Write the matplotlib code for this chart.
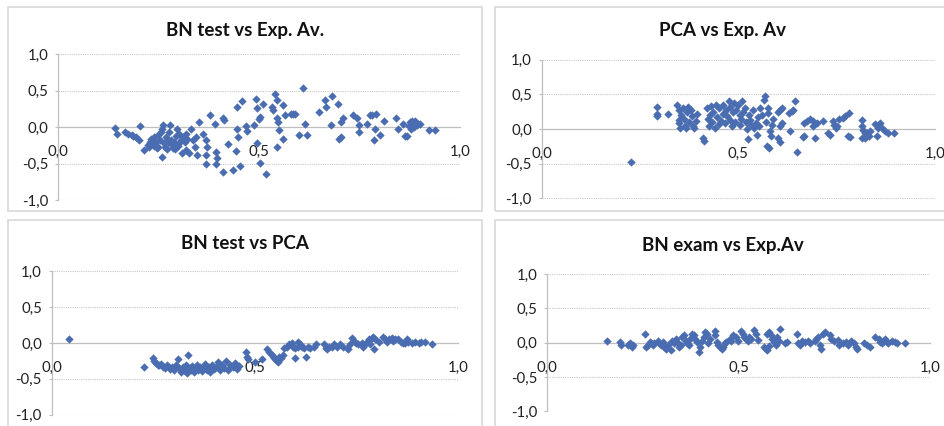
import matplotlib
matplotlib.use('Agg')
import matplotlib.pyplot as plt
from matplotlib.patches import Rectangle

plt.rcParams['font.family'] = ['Lato', 'DejaVu Sans']

titles = ["BN test vs Exp. Av.", "PCA vs Exp. Av", "BN test vs PCA", "BN exam vs Exp.Av"]
x_ticks = [0.0, 0.5, 1.0]
y_ticks = [-1.0, -0.5, 0.0, 0.5, 1.0]

bn_test_vs_exp_av = [
    (0.14, -0.01), (0.147, -0.09), (0.166, -0.07), (0.174, -0.09), (0.183, -0.11), (0.187, -0.12),
    (0.193, -0.14), (0.2, -0.17), (0.203, 0.01), (0.214, -0.32), (0.224, -0.25), (0.228, -0.2),
    (0.227, -0.27), (0.232, -0.16), (0.235, -0.22), (0.237, -0.13), (0.238, -0.26), (0.243, -0.2),
    (0.245, -0.29), (0.247, -0.11), (0.249, -0.27), (0.253, -0.18), (0.255, -0.06), (0.257, -0.02),
    (0.261, 0.03), (0.259, -0.41), (0.262, -0.22), (0.266, -0.27), (0.268, -0.13), (0.27, -0.3),
    (0.272, -0.2), (0.276, -0.06), (0.278, 0.03), (0.28, -0.18), (0.282, -0.25), (0.285, -0.28),
    (0.288, -0.2), (0.29, -0.3), (0.293, -0.12), (0.296, -0.02), (0.299, -0.26), (0.3, -0.22),
    (0.301, -0.09), (0.305, -0.18), (0.307, -0.35), (0.311, -0.13), (0.316, -0.2), (0.317, -0.1),
    (0.318, -0.32), (0.321, -0.16), (0.326, -0.35), (0.33, -0.02), (0.336, -0.18), (0.34, -0.27),
    (0.343, -0.13), (0.346, -0.38), (0.351, 0.07), (0.361, -0.09), (0.368, -0.18), (0.369, -0.27),
    (0.368, -0.38), (0.368, -0.5), (0.378, 0.16), (0.39, 0.04), (0.393, -0.34), (0.394, -0.43),
    (0.392, -0.51), (0.411, 0.13), (0.413, 0.1), (0.411, -0.61), (0.423, -0.23), (0.434, -0.59),
    (0.444, 0.28), (0.446, -0.02), (0.442, -0.33), (0.448, -0.13), (0.457, 0.36), (0.452, -0.53),
    (0.467, 0.02), (0.469, -0.05), (0.486, 0.03), (0.492, 0.38), (0.495, 0.26), (0.494, -0.22),
    (0.502, 0.14), (0.5, 0.11), (0.502, -0.49), (0.51, 0.32), (0.516, -0.64), (0.531, 0.28),
    (0.535, 0.23), (0.54, 0.45), (0.544, 0.37), (0.544, 0.13), (0.548, 0.07), (0.55, -0.04),
    (0.544, -0.27), (0.56, 0.3), (0.56, -0.16), (0.564, 0.17), (0.58, 0.18), (0.585, 0.18),
    (0.59, 0.18), (0.598, -0.11), (0.61, 0.54), (0.614, 0.04), (0.618, -0.11), (0.65, 0.21),
    (0.664, 0.37), (0.666, 0.27), (0.682, 0.43), (0.68, 0.03), (0.697, 0.32), (0.7, -0.16),
    (0.704, -0.14), (0.703, 0.07), (0.708, 0.13), (0.734, 0.17), (0.744, 0.12), (0.749, 0.03),
    (0.749, -0.06), (0.768, 0.05), (0.775, 0.17), (0.782, 0.16), (0.79, 0.18), (0.788, -0.02),
    (0.786, -0.18), (0.8, -0.11), (0.811, 0.08), (0.84, 0.13), (0.846, -0.02), (0.857, 0.05),
    (0.863, -0.12), (0.869, -0.12), (0.872, 0.02), (0.876, 0.07), (0.88, 0.09), (0.884, 0.04),
    (0.888, 0.08), (0.892, 0.03), (0.896, 0.05), (0.9, 0.04), (0.878, -0.02), (0.886, 0.0),
    (0.924, -0.04), (0.938, -0.04),
]

pca_vs_exp_av = [
    (0.227, -0.47), (0.293, 0.31), (0.293, 0.21), (0.292, 0.18), (0.322, 0.22),
    (0.345, 0.35), (0.348, 0.27), (0.35, 0.13), (0.35, 0.09), (0.352, 0.02), (0.355, 0.2),
    (0.36, 0.3), (0.362, 0.15), (0.365, 0.05), (0.368, 0.01), (0.37, 0.25), (0.372, 0.32),
    (0.375, 0.1), (0.38, 0.28), (0.383, 0.18), (0.385, 0.05), (0.388, 0.02), (0.392, 0.12),
    (0.395, 0.22), (0.41, -0.13), (0.413, -0.17), (0.42, 0.3), (0.422, 0.15), (0.425, 0.05),
    (0.428, 0.2), (0.43, 0.33), (0.433, 0.1), (0.436, 0.25), (0.44, 0.02), (0.443, 0.35),
    (0.446, 0.17), (0.45, 0.07), (0.452, 0.3), (0.455, 0.12), (0.46, 0.22), (0.462, 0.35),
    (0.465, 0.08), (0.468, 0.27), (0.47, 0.18), (0.475, 0.41), (0.478, 0.32), (0.48, 0.13),
    (0.483, 0.04), (0.486, 0.24), (0.49, 0.37), (0.492, 0.1), (0.495, 0.28), (0.5, 0.34),
    (0.503, 0.2), (0.505, 0.06), (0.508, 0.15), (0.51, 0.41), (0.513, 0.25), (0.516, 0.3),
    (0.52, 0.1), (0.522, 0.0), (0.525, -0.15), (0.528, 0.2), (0.53, 0.13), (0.533, 0.06),
    (0.537, 0.28), (0.54, 0.02), (0.545, 0.09), (0.548, -0.08), (0.55, 0.17), (0.553, 0.05),
    (0.556, 0.3), (0.56, 0.2), (0.565, 0.42), (0.568, 0.47), (0.57, 0.1), (0.572, -0.25),
    (0.575, 0.3), (0.576, 0.23), (0.578, -0.28), (0.58, -0.03), (0.582, -0.1), (0.585, 0.06),
    (0.588, 0.14), (0.6, 0.25), (0.605, 0.28), (0.61, 0.3), (0.6, -0.13), (0.605, -0.18),
    (0.607, 0.04), (0.61, 0.09), (0.63, 0.23), (0.636, 0.26), (0.64, 0.28), (0.632, -0.03),
    (0.645, 0.4), (0.648, -0.33), (0.665, -0.11), (0.666, 0.09), (0.674, 0.11), (0.682, 0.14),
    (0.69, 0.11), (0.699, 0.09), (0.69, 0.04), (0.666, -0.1), (0.695, -0.13), (0.715, 0.11),
    (0.728, -0.06), (0.733, -0.08), (0.74, 0.11), (0.744, 0.06), (0.748, 0.01), (0.752, 0.04),
    (0.757, 0.14), (0.765, 0.16), (0.772, 0.18), (0.782, 0.23), (0.78, -0.1), (0.785, -0.12),
    (0.815, 0.13), (0.814, 0.04), (0.818, -0.01), (0.822, -0.06), (0.827, -0.06), (0.814, -0.13),
    (0.822, -0.13), (0.831, -0.1), (0.835, -0.03), (0.848, 0.07), (0.852, -0.1), (0.855, 0.02),
    (0.86, 0.09), (0.864, 0.01), (0.872, -0.03), (0.881, -0.06), (0.897, -0.06),
]

bn_test_vs_pca = [
    (0.042, 0.05), (0.226, -0.33), (0.25, -0.21), (0.253, -0.25), (0.257, -0.28), (0.261, -0.3),
    (0.265, -0.31), (0.27, -0.29), (0.275, -0.33), (0.28, -0.35), (0.285, -0.3), (0.29, -0.36),
    (0.295, -0.33), (0.3, -0.38), (0.305, -0.31), (0.31, -0.23), (0.313, -0.35), (0.318, -0.4),
    (0.322, -0.33), (0.326, -0.37), (0.33, -0.3), (0.333, -0.42), (0.336, -0.17), (0.34, -0.35),
    (0.343, -0.38), (0.346, -0.32), (0.35, -0.4), (0.353, -0.36), (0.357, -0.3), (0.36, -0.37),
    (0.365, -0.33), (0.37, -0.39), (0.374, -0.35), (0.378, -0.29), (0.382, -0.38), (0.386, -0.34),
    (0.39, -0.4), (0.395, -0.3), (0.4, -0.36), (0.405, -0.33), (0.41, -0.27), (0.415, -0.38),
    (0.42, -0.31), (0.425, -0.35), (0.43, -0.25), (0.435, -0.37), (0.44, -0.3), (0.445, -0.34),
    (0.45, -0.28), (0.455, -0.36), (0.46, -0.32), (0.478, -0.13), (0.48, -0.19), (0.482, -0.23),
    (0.5, -0.26), (0.518, -0.23), (0.53, -0.09), (0.535, -0.12), (0.54, -0.15), (0.545, -0.18),
    (0.548, -0.21), (0.552, -0.24), (0.556, -0.27), (0.56, -0.19), (0.565, -0.21), (0.57, -0.17),
    (0.572, -0.07), (0.58, -0.05), (0.585, -0.02), (0.592, 0.0), (0.595, -0.05), (0.6, -0.07),
    (0.605, -0.05), (0.606, 0.02), (0.6, -0.21), (0.625, -0.19), (0.612, -0.02), (0.616, -0.05),
    (0.62, -0.07), (0.63, -0.05), (0.635, -0.07), (0.645, -0.05), (0.65, -0.02), (0.67, -0.02),
    (0.674, -0.07), (0.678, -0.09), (0.682, -0.05), (0.69, -0.05), (0.695, -0.02), (0.702, -0.05),
    (0.71, -0.02), (0.718, -0.05), (0.727, -0.07), (0.73, -0.09), (0.735, -0.02), (0.74, 0.07),
    (0.747, 0.02), (0.75, 0.0), (0.755, -0.02), (0.763, 0.0), (0.767, -0.05), (0.772, -0.02),
    (0.775, 0.02), (0.78, 0.05), (0.784, -0.02), (0.788, 0.07), (0.792, 0.09), (0.794, -0.09),
    (0.796, 0.05), (0.805, 0.02), (0.815, 0.08), (0.82, 0.05), (0.825, 0.02), (0.83, 0.05),
    (0.837, 0.07), (0.84, 0.03), (0.845, 0.05), (0.853, 0.06), (0.86, 0.02), (0.865, 0.0),
    (0.87, 0.0), (0.874, 0.06), (0.878, 0.02), (0.886, 0.0), (0.894, 0.02), (0.903, 0.0),
    (0.91, 0.02), (0.918, 0.01), (0.935, -0.02),
]

bn_exam_vs_exp_av = [
    (0.156, 0.03), (0.191, 0.01), (0.193, -0.03), (0.212, -0.04), (0.216, -0.01), (0.221, -0.06),
    (0.225, -0.04), (0.255, 0.13), (0.259, -0.06), (0.263, -0.04), (0.268, 0.01), (0.272, -0.01),
    (0.276, -0.04), (0.28, 0.0), (0.289, 0.03), (0.293, -0.01), (0.297, -0.04), (0.302, 0.01),
    (0.306, -0.06), (0.31, -0.09), (0.315, -0.04), (0.323, -0.11), (0.327, 0.03), (0.332, -0.01),
    (0.336, 0.06), (0.34, 0.01), (0.344, -0.06), (0.349, -0.04), (0.353, 0.08), (0.357, 0.11),
    (0.362, 0.03), (0.366, -0.01), (0.37, -0.04), (0.374, 0.06), (0.379, 0.13), (0.383, 0.11),
    (0.387, 0.06), (0.391, 0.01), (0.396, -0.14), (0.4, -0.06), (0.404, 0.03), (0.409, 0.08),
    (0.413, 0.16), (0.417, 0.13), (0.421, -0.01), (0.426, 0.06), (0.438, 0.17), (0.438, 0.11),
    (0.443, 0.01), (0.447, -0.04), (0.451, -0.06), (0.456, -0.09), (0.46, -0.06), (0.464, -0.01),
    (0.468, 0.01), (0.477, 0.06), (0.481, 0.03), (0.485, 0.11), (0.494, 0.08), (0.498, 0.03),
    (0.507, 0.17), (0.511, 0.13), (0.515, 0.08), (0.52, 0.06), (0.524, 0.03), (0.528, 0.08),
    (0.532, 0.06), (0.541, 0.18), (0.545, 0.13), (0.55, 0.04), (0.567, -0.06), (0.571, -0.09),
    (0.575, -0.11), (0.579, -0.05), (0.575, 0.13), (0.579, 0.16), (0.584, 0.11), (0.588, 0.06),
    (0.592, 0.01), (0.597, -0.04), (0.609, 0.2), (0.601, 0.08), (0.605, 0.03), (0.622, -0.01),
    (0.626, 0.01), (0.652, 0.13), (0.656, -0.01), (0.661, -0.04), (0.665, 0.03), (0.674, 0.01),
    (0.682, 0.03), (0.686, -0.01), (0.699, 0.03), (0.703, 0.06), (0.708, 0.08), (0.712, -0.04),
    (0.716, -0.09), (0.721, 0.13), (0.725, 0.16), (0.738, 0.11), (0.742, 0.06), (0.75, 0.03),
    (0.759, 0.04), (0.763, -0.04), (0.772, -0.01), (0.78, 0.01), (0.785, -0.04), (0.793, 0.03),
    (0.802, -0.01), (0.806, -0.06), (0.81, -0.09), (0.827, -0.01), (0.836, -0.04), (0.844, -0.06),
    (0.857, 0.08), (0.866, 0.06), (0.87, 0.01), (0.874, -0.01), (0.879, 0.03), (0.883, 0.06),
    (0.887, 0.01), (0.891, -0.01), (0.9, 0.03), (0.909, 0.01), (0.913, -0.01), (0.934, 0.0),
]

series = [bn_test_vs_exp_av, pca_vs_exp_av, bn_test_vs_pca, bn_exam_vs_exp_av]

W, H = 945, 426
fig = plt.figure(figsize=(W / 100, H / 100), dpi=100)


def rect(x0, y0, x1, y1):
    return [x0 / W, 1 - y1 / H, (x1 - x0) / W, (y1 - y0) / H]


def fmt(v):
    return f"{v:.1f}".replace('.', ',')


boxes = [(8, 7, 482, 211), (495, 7, 955, 211), (8, 220, 482, 432), (495, 220, 955, 432)]
plot_areas = [(58.3, 54.3, 460, 200), (541.7, 59.5, 935, 198.5),
              (51.7, 271.3, 458, 414.7), (547.3, 274, 930, 411.3)]
title_pos = [(245, 30.5), (723, 30.5), (245, 243.5), (723, 246)]

marker_color = '#4a6cb0'
axis_color = '#bfbfbf'
grid_color = '#c8c8c8'
text_color = '#222222'

for i in range(4):
    bx = rect(*boxes[i])
    fig.add_artist(Rectangle((bx[0], bx[1]), bx[2], bx[3], transform=fig.transFigure,
                             fill=False, edgecolor='#d9d9d9', linewidth=1.2))
    tx, ty = title_pos[i]
    fig.text(tx / W, 1 - ty / H, titles[i], ha='center', va='center',
             fontsize=13.5, fontweight='bold', color='#111111')

    ax = fig.add_axes(rect(*plot_areas[i]))
    ax.set_facecolor('none')
    ax.set_xlim(0, 1)
    ax.set_ylim(-1, 1)
    for s in ['top', 'right']:
        ax.spines[s].set_visible(False)
    ax.spines['left'].set_color(axis_color)
    ax.spines['left'].set_linewidth(0.9)
    ax.spines['bottom'].set_position(('data', 0))
    ax.spines['bottom'].set_color(axis_color)
    ax.spines['bottom'].set_linewidth(0.9)
    for yv in y_ticks:
        if yv != 0:
            ax.axhline(yv, color=grid_color, linewidth=0.8, linestyle=(0, (1, 1)), zorder=1)

    ax.set_xticks(x_ticks)
    ax.set_xticklabels([fmt(v) for v in x_ticks])
    ax.set_yticks(y_ticks)
    ax.set_yticklabels([fmt(v) for v in y_ticks])
    ax.tick_params(axis='x', length=0, pad=13, labelsize=10.8, labelcolor=text_color)
    ax.tick_params(axis='y', length=2.5, width=0.8, color=axis_color, pad=4.5,
                   labelsize=10.8, labelcolor=text_color)

    xs = [p[0] for p in series[i]]
    ys = [p[1] for p in series[i]]
    ax.scatter(xs, ys, marker='D', s=18, color=marker_color, linewidths=0, zorder=3)

fig.savefig('out.png', dpi=100)
